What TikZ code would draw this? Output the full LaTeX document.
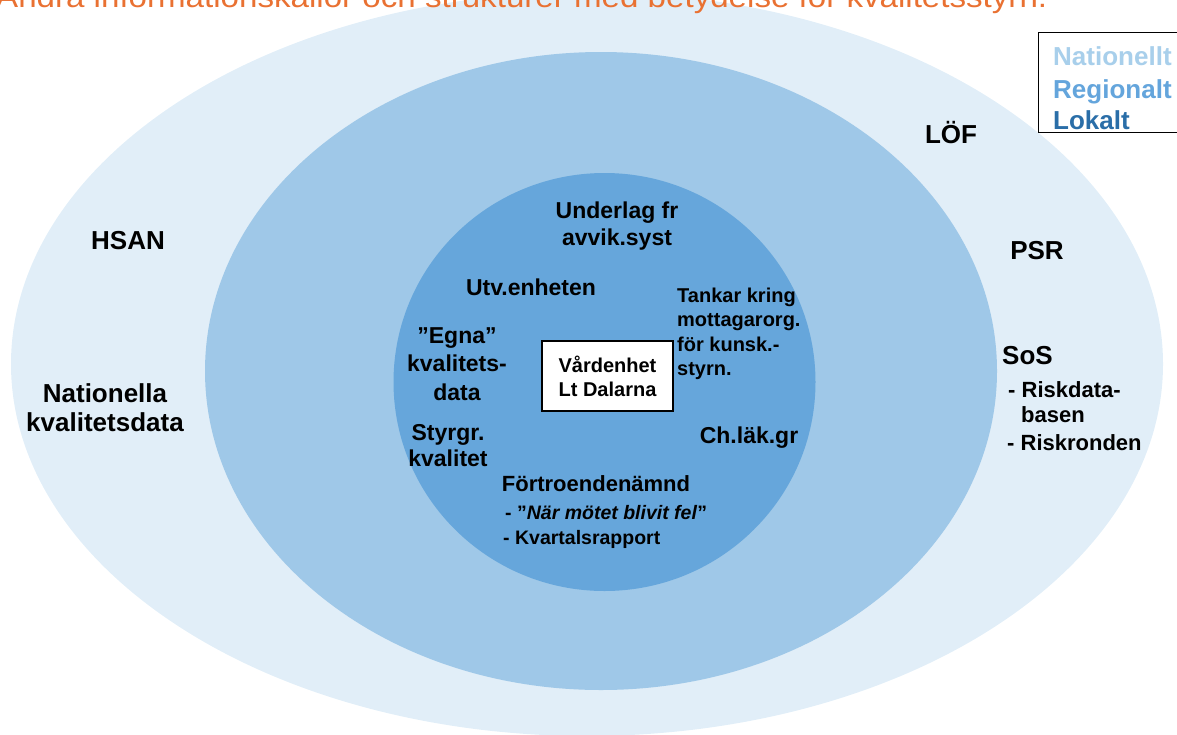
\documentclass[tikz,border=0pt]{standalone}
\usepackage{fontspec}
\setmainfont{Liberation Sans}
\usepackage{graphicx}
\definecolor{ringout}{RGB}{225,238,248}
\definecolor{ringmid}{RGB}{159,200,232}
\definecolor{ringin}{RGB}{102,166,219}
\definecolor{legnat}{RGB}{168,207,235}
\definecolor{legreg}{RGB}{100,165,220}
\definecolor{legloc}{RGB}{42,110,168}
\definecolor{titleorange}{RGB}{233,113,50}
\tikzset{
  lbl/.style={inner sep=0pt, align=center, font=\bfseries\fontsize{26}{29}\selectfont},
  lblsub/.style={inner sep=0pt, align=left, font=\bfseries\fontsize{22}{26}\selectfont},
  inlbl/.style={inner sep=0pt, align=center, font=\bfseries\fontsize{23}{27}\selectfont},
  smlbl/.style={inner sep=0pt, align=left, font=\bfseries\fontsize{20}{24.5}\selectfont},
  itemlbl/.style={inner sep=0pt, align=left, font=\bfseries\fontsize{19.5}{25}\selectfont},
  legtxt/.style={inner sep=0pt, anchor=base west, font=\bfseries\fontsize{26}{30}\selectfont},
  unitbox/.style={draw=black, line width=1.3pt, fill=white, minimum width=131pt, minimum height=70pt, inner sep=0pt, align=center, font=\bfseries\fontsize{20}{24}\selectfont},
}
\begin{document}
\begin{tikzpicture}[x=1pt,y=-1pt]
\useasboundingbox (0,0) rectangle (1177,734);
\clip (0,0) rectangle (1177,734);
% rings
\fill[ringout] (587,364) ellipse [x radius=576pt, y radius=372pt];
\fill[ringmid] (601,371) ellipse [x radius=396pt, y radius=319pt];
\fill[ringin] (604.5,382) ellipse [x radius=211pt, y radius=209pt];
% title (cut at top)
\node[inner sep=0pt, anchor=base west, text=titleorange] (title) at (-4,7.5)
  {\resizebox{1051pt}{\height}{\fontsize{30}{30}\selectfont Andra informationskällor och strukturer med betydelse för kvalitetsstyrn.}};
% legend
\node[draw=black, line width=1.2pt, fill=white, minimum width=170pt, minimum height=100pt, anchor=north west, inner sep=0pt] (legend) at (1038,32) {};
\node[legtxt, text=legnat] (lnat) at (1053,65) {Nationellt};
\node[legtxt, text=legreg] (lreg) at (1053,98) {Regionalt};
\node[legtxt, text=legloc] (lloc) at (1053,129) {Lokalt};
% national ring
\node[lbl, anchor=base] (hsan) at (128,249) {HSAN};
\node[lbl, anchor=base] (natk) at (105,431) {Nationella\\kvalitetsdata};
\node[lbl, anchor=base] (lof) at (951,143) {LÖF};
\node[lbl, anchor=base] (psr) at (1037,259) {PSR};
\node[lbl, anchor=base west] (sos) at (1002,364) {SoS};
\node[lblsub, anchor=base west] (sos1) at (1008,397) {- Riskdata-};
\node[lblsub, anchor=base west] (sos2) at (1021,422) {basen};
\node[lblsub, anchor=base west] (sos3) at (1007,450) {- Riskronden};
% local circle
\node[inlbl, anchor=base] (underlag) at (617,245) {Underlag fr\\avvik.syst};
\node[inlbl, anchor=base] (utv) at (531,295) {Utv.enheten};
\node[smlbl, anchor=base west] (tankar) at (677,375.5) {Tankar kring\\mottagarorg.\\för kunsk.-\\styrn.};
\node[inlbl, anchor=base, font=\bfseries\fontsize{23}{28.5}\selectfont] (egna) at (457,400) {”Egna”\\kvalitets-\\data};
\node[inlbl, anchor=base, font=\bfseries\fontsize{23}{26}\selectfont] (styr) at (448,466) {Styrgr.\\kvalitet};
\node[inlbl, anchor=base] (chlak) at (749,443) {Ch.läk.gr};
\node[inlbl, anchor=base, font=\bfseries\fontsize{22}{26}\selectfont] (fortro) at (596,491) {Förtroendenämnd};
\node[itemlbl, anchor=base west] (item1) at (505,519) {- ”\textit{När mötet blivit fel}”};
\node[itemlbl, anchor=base west] (item2) at (503,544) {- Kvartalsrapport};
% centre box
\node[unitbox] (unit) at (607.5,376) {Vårdenhet\\Lt Dalarna};
\end{tikzpicture}
\end{document}
